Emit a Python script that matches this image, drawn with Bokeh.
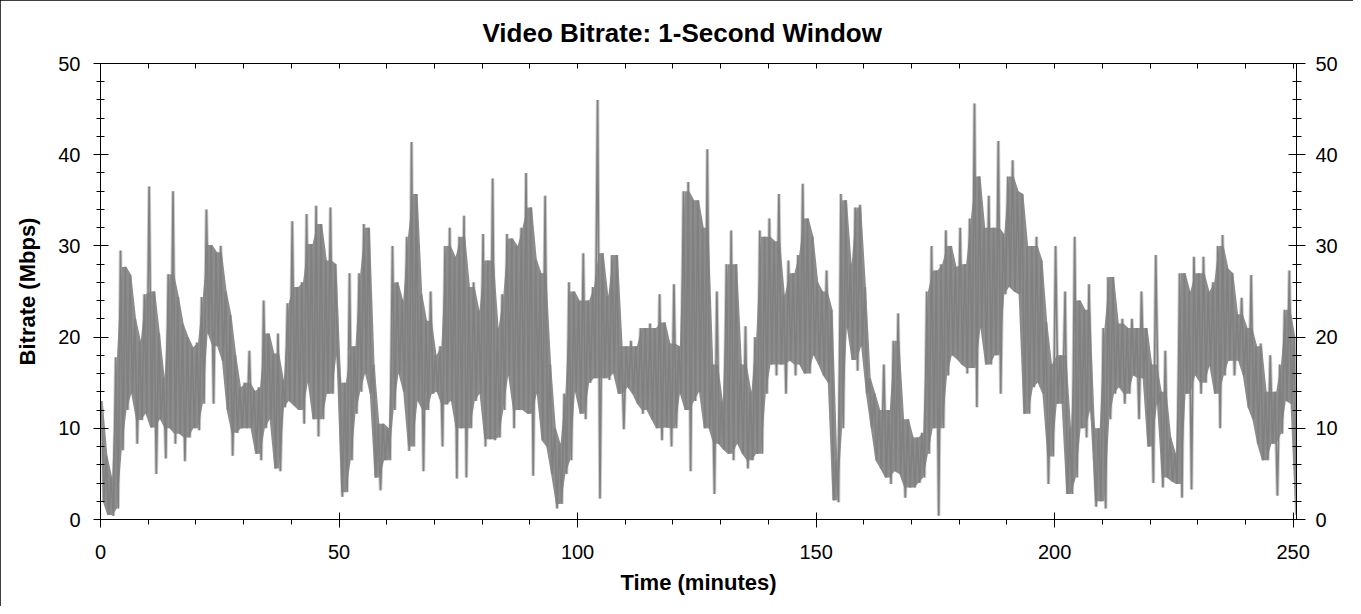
import numpy as np
from bokeh.plotting import figure
from bokeh.models import LinearAxis, Range1d, FixedTicker
from bokeh.embed import file_html
from bokeh.resources import INLINE

# Per-minute envelope (Mbps)
minutes = list(range(251))
peak = [13, 7, 4.6, 17.8, 29.5, 27.7, 26.8, 22, 19.6, 24.7,
        36.5, 25, 20.4, 15.6, 26.9, 36, 24.4, 21.4, 20, 18.9,
        19.4, 24.4, 34, 30.1, 29.3, 30, 25, 22.4, 18, 14.5,
        15, 18.5, 14.1, 14.5, 24, 20.4, 18.2, 20.4, 15.3, 23.7,
        32.7, 25.5, 26, 33.5, 30.2, 34.4, 32.4, 28.4, 34.2, 28,
        15, 15, 27, 19, 27, 32.4, 32, 17, 10.5, 10.5,
        10, 30, 26, 24, 31, 41.4, 35.7, 24.7, 21.8, 25,
        18, 19, 30, 32, 28.8, 31, 33.3, 25.5, 26, 22.9,
        31.3, 28.4, 37.4, 21, 24.7, 31.3, 30.8, 30, 32, 38,
        34.2, 28.5, 27, 35.5, 17, 10, 8.3, 13.8, 26, 25,
        24, 29.2, 24, 25.5, 46, 29.2, 24.5, 29, 29, 19,
        19, 19.6, 19, 21, 21, 21.5, 21, 24.7, 21.6, 19.3,
        25.8, 19, 36, 37, 35, 35, 32, 40.6, 17, 25,
        13, 28, 31.7, 28, 17, 21.2, 14, 20, 31.7, 31,
        33, 30.5, 35.7, 24.6, 28.4, 27, 29, 36.8, 33, 31,
        26, 25, 27.3, 23, 6.5, 35.7, 35, 28, 34.2, 34.5,
        25.5, 15.5, 13.8, 12, 17, 12, 19.6, 22.6, 11, 11,
        9, 9, 9.5, 25, 30, 27.3, 28, 31.7, 30, 27.7,
        32, 28, 33, 45.6, 37.6, 32, 35.5, 32, 41.5, 31.3,
        37.6, 39.4, 36, 35.7, 30, 30, 31, 28.4, 21.6, 17,
        30, 18, 25, 10, 31, 24, 23, 25.8, 10, 10,
        21, 26.6, 26.6, 21.5, 22, 21, 22, 21, 25, 21,
        17, 29, 14, 18.5, 9, 7.2, 27, 27, 25, 28.8,
        27, 28.8, 25, 26, 30, 31.2, 27.5, 27, 22.5, 24.3,
        21, 26.8, 19, 19.3, 14, 18, 14, 17, 23, 27.3,
        20]
trough = [2, 0.5, 0.4, 1.2, 7.6, 12, 13.8, 8.3, 10.9, 11.6,
          10.1, 5, 11, 6.7, 10, 8.3, 9.4, 6.4, 9, 10,
          9.8, 12.7, 20.4, 12.7, 19, 17.4, 12, 7, 9.5, 10,
          10, 10, 7.2, 6.5, 10, 11, 5.6, 5.3, 12.3, 13,
          12.5, 12, 10.5, 15, 11, 9.1, 11, 13.8, 13.8, 18,
          2.5, 3, 6.5, 11.6, 14, 16, 13.8, 4.6, 3.2, 6.5,
          6.5, 12, 16, 14, 7.5, 8, 13, 5.3, 12, 13.8,
          14, 8, 12.6, 13, 4.5, 10, 4.6, 10, 13, 13.8,
          8, 8.8, 8.7, 9, 12, 15.8, 10, 12, 12, 11.6,
          4.8, 13.8, 8.7, 8, 5, 1.2, 1.7, 5, 6.5, 14,
          11.6, 11, 15, 15.5, 2.3, 15.5, 15.3, 16, 13.8, 9.9,
          14.5, 13.8, 12.7, 11.6, 12, 11, 10, 8.7, 10.1, 8,
          10, 13.8, 12, 5.3, 13, 14, 10, 10, 2.8, 8.3,
          7.7, 7.2, 6.5, 8.3, 7.2, 5.6, 6.5, 7.2, 7.2, 13.8,
          17, 15.8, 17, 13.8, 17.4, 15.8, 17, 16, 16, 18,
          17, 15.8, 15, 2.1, 1.9, 10, 21, 17.5, 16.3, 19,
          13.8, 10.1, 6.5, 5.6, 4.6, 3.9, 5.3, 5, 2.4, 3.5,
          3.5, 4, 4.6, 7.2, 10, 0.4, 10, 15.8, 18, 17.6,
          17, 16, 16.6, 12.3, 21, 17, 17, 18, 13.8, 24.7,
          25.5, 25, 24.7, 11.6, 11.6, 14.5, 15, 13.8, 3.9, 6.9,
          12.7, 12.7, 2.8, 2.8, 4.6, 10, 9, 12, 1.4, 2,
          1.2, 11, 13.8, 14.5, 12.7, 13.8, 15.8, 11, 15.5, 8,
          4, 12.7, 3.5, 4.6, 4.2, 3.9, 2.4, 13.8, 3.3, 15.8,
          13.8, 15, 16.8, 13.8, 10, 15.8, 17.4, 15.8, 17.4, 15.8,
          12.3, 11, 8.3, 6.5, 6.5, 8.3, 2.6, 9.4, 13, 12.7,
          0.5]

x_major = [0, 50, 100, 150, 200, 250]
x_minor = list(range(0, 251, 10))
y_major = [0, 10, 20, 30, 40, 50]
y_minor = list(range(0, 51, 2))

# zigzag through each minute's peak and trough
xs, ys = [], []
for m, hi, lo in zip(minutes, peak, trough):
    xs += [m + 0.2, m + 0.7]
    ys += [hi, lo]

# dense core band: the envelope without isolated one-minute spikes / dips
pk = np.array(peak, dtype=float)
tr = np.array(trough, dtype=float)
pk_pad = np.pad(pk, 1, mode="edge")
tr_pad = np.pad(tr, 1, mode="edge")
core_hi = np.median(np.vstack([pk_pad[:-2], pk_pad[1:-1], pk_pad[2:]]), axis=0)
core_lo = np.median(np.vstack([tr_pad[:-2], tr_pad[1:-1], tr_pad[2:]]), axis=0)
core_hi = np.minimum(core_hi, pk)
core_lo = np.maximum(core_lo, tr)
core_lo = np.minimum(core_lo, core_hi)
core_x = np.array(minutes, dtype=float) + 0.45

FONT = "Liberation Sans"

p = figure(frame_width=1196, frame_height=456,
           x_range=Range1d(0, 250.7), y_range=Range1d(0, 50),
           output_backend="svg", toolbar_location=None,
           min_border_left=100, min_border_right=57,
           min_border_top=63, min_border_bottom=87,
           title="Video Bitrate: 1-Second Window",
           background_fill_color="white", border_fill_color="white")
p.styles = {"outline": "1px solid black", "outline-offset": "-1px"}
p.grid.visible = False
p.outline_line_color = "black"

p.title.align = "left"
p.title.offset = 382
p.title.text_font = FONT
p.title.text_font_size = "26px"
p.title.text_font_style = "bold"
p.title.text_color = "black"
p.title.standoff = 31

p.line(xs, ys, line_color="#cccccc", line_width=3.5)
p.varea(x=core_x, y1=core_lo, y2=core_hi, fill_color="#8c8c8c")
p.line(xs, ys, line_color="#808080", line_width=1.6)

def style(ax, ticks, minor, label, tin, tout, min_in, min_out, standoff, lab_standoff=12):
    ax.ticker = FixedTicker(ticks=ticks, minor_ticks=minor)
    ax.axis_line_color = "black"
    ax.major_tick_line_color = "black"
    ax.minor_tick_line_color = "black"
    ax.major_tick_in = tin
    ax.major_tick_out = tout
    ax.minor_tick_in = min_in
    ax.minor_tick_out = min_out
    ax.major_label_text_font = FONT
    ax.major_label_text_font_size = "20px"
    ax.major_label_text_color = "black"
    ax.major_label_standoff = standoff
    if label:
        ax.axis_label = label
        ax.axis_label_text_font = FONT
        ax.axis_label_text_font_size = "22px"
        ax.axis_label_text_font_style = "bold"
        ax.axis_label_text_color = "black"
        ax.axis_label_standoff = lab_standoff

style(p.xaxis[0], x_major, x_minor, "Time (minutes)", 7, 8, 0, 5, 17, 8)
style(p.yaxis[0], y_major, y_minor, "Bitrate (Mbps)", 8, 7, 4, 4, 13, 15)

right = LinearAxis()
style(right, y_major, y_minor, None, 8, 9, 4, 5, 10)
p.add_layout(right, "right")

top = LinearAxis()
style(top, [], x_minor, None, 0, 0, 5, 0, 10)
p.add_layout(top, "above")

open("out.html", "w").write(file_html(p, INLINE))
